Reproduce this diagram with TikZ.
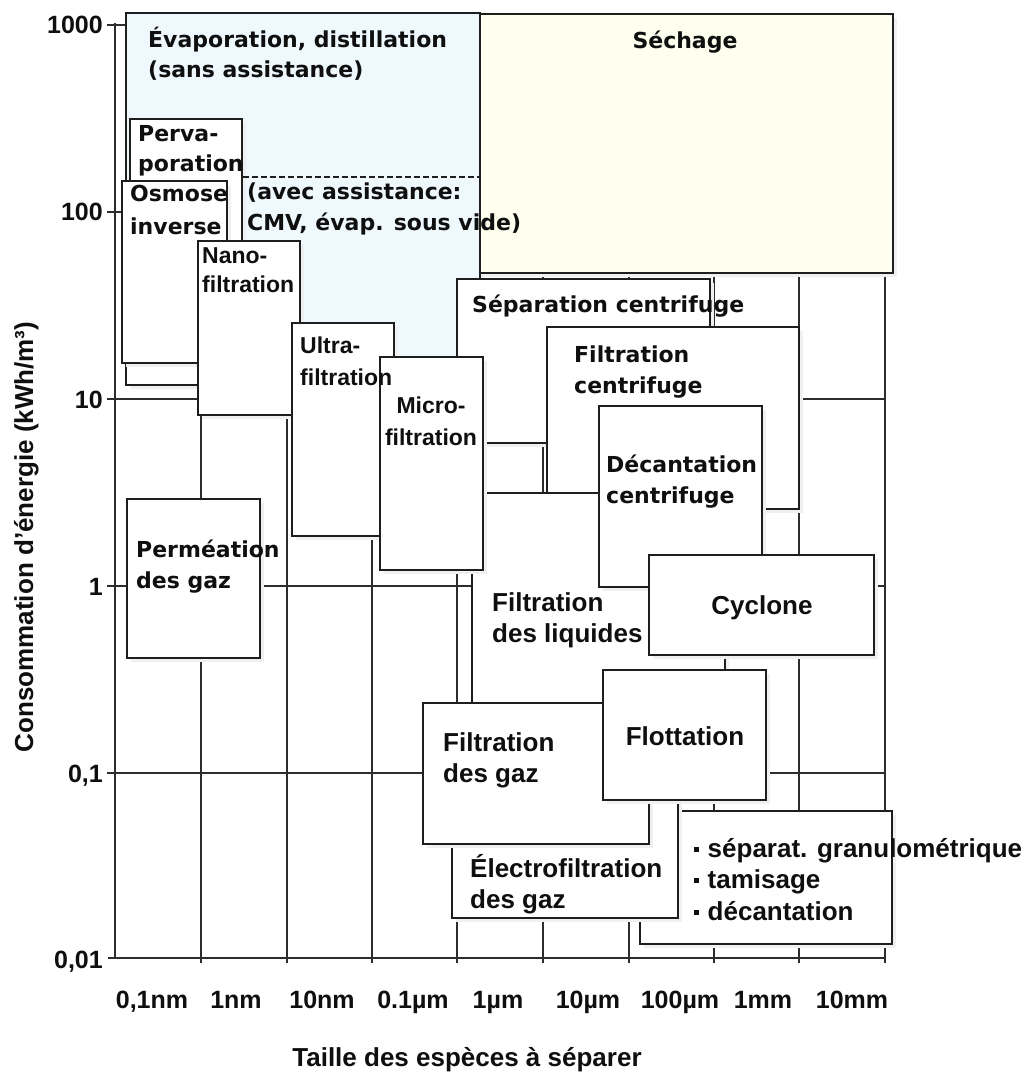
\documentclass[tikz,border=0pt]{standalone}
\usepackage{fontspec}
\setmainfont{Liberation Sans}
\newfontfamily\dvs{DejaVu Sans}
\usetikzlibrary{shadows}
\definecolor{evapblue}{RGB}{239,249,253}
\definecolor{sechyel}{RGB}{255,255,240}
\definecolor{lc}{RGB}{30,30,30}
\definecolor{gridc}{RGB}{45,45,45}
\definecolor{txt}{RGB}{15,15,15}
\tikzset{
  bx/.style={draw=lc, line width=1.6pt, fill=white,
    drop shadow={shadow xshift=4pt, shadow yshift=-4pt, fill=black!6, draw=none, opacity=1}},
  gridl/.style={draw=gridc, line width=1.4pt},
  axisl/.style={draw=gridc, line width=2.3pt},
  fa/.style={inner sep=0pt, text=txt, font=\fontsize{26}{31}\selectfont\bfseries},
  fb/.style={inner sep=0pt, text=txt, font=\dvs\fontsize{22}{27}\selectfont\bfseries},
  fc/.style={inner sep=0pt, text=txt, font=\fontsize{23}{28}\selectfont\bfseries},
  tk/.style={inner sep=0pt, text=txt, font=\fontsize{25}{30}\selectfont\bfseries},
}
\newcommand\blt{\rule[5pt]{4.5pt}{5pt}\hspace{9pt}}
\begin{document}
\begin{tikzpicture}[x=1pt,y=-1pt]
\useasboundingbox (0,0) rectangle (1031,1075);
\fill[white] (0,0) rectangle (1031,1075);

% grid
\foreach \gx in {201,287,372,457,543,629,714,799,885}
  \draw[gridl] (\gx,25) -- (\gx,963);
\foreach \gy in {25,212,399,586,773}
  \draw[gridl] (107,\gy) -- (885,\gy);
\draw[gridl] (115,23) -- (115,958);
\draw[axisl] (108,958) -- (885,958);

% boxes
\path[bx, fill=evapblue] (126,13) rectangle (480,385);
\path[bx, fill=sechyel] (480,14) rectangle (893,273);
\path[bx] (130,119) rectangle (242,360);
\draw[lc, line width=1.3pt, dash pattern=on 6pt off 3pt] (243,177) -- (480,177);
\fill[white] (127,364) rectangle (197,384);
\path[bx] (122,181) rectangle (227,363);
\path[bx] (198,241) rectangle (300,415);
\path[bx] (457,279) rectangle (710,443);
\path[bx] (547,327) rectangle (799,509);
\path[bx] (472,493) rectangle (725,760);
\path[bx] (599,406) rectangle (762,587);
\path[bx] (649,555) rectangle (874,655);
\path[bx] (292,323) rectangle (394,536);
\path[bx] (380,357) rectangle (483,570);
\path[bx] (127,499) rectangle (260,658);
\path[bx] (640,811) rectangle (892,944);
\path[bx] (452,780) rectangle (678,918);
\path[bx] (423,703) rectangle (649,844);
\path[bx] (603,670) rectangle (766,800);

% texts in boxes
\node[fb, anchor=base west] (evap1) at (148,48) {Évaporation, distillation};
\node[fb, anchor=base west] (evap2) at (148,78) {(sans assistance)};
\node[fb, anchor=base] (sech) at (685,49) {Séchage};
\node[fb, anchor=base west] (perv1) at (138,142) {Perva-};
\node[fb, anchor=base west] (perv2) at (138,172) {poration};
\node[fb, anchor=base west] (osm1) at (130,202) {Osmose};
\node[fb, anchor=base west] (osm2) at (130,234) {inverse};
\node[fb, anchor=base west] (avec1) at (247,200) {(avec assistance:};
\node[fb, anchor=base west] (avec2) at (247,231) {CMV, évap. sous vide)};
\node[fc, anchor=base west] (nano1) at (202,263) {Nano-};
\node[fc, anchor=base west] (nano2) at (202,292) {filtration};
\node[fc, anchor=base west] (ultra1) at (300,353) {Ultra-};
\node[fc, anchor=base west] (ultra2) at (300,385) {filtration};
\node[fc, anchor=base] (micro1) at (431,413) {Micro-};
\node[fc, anchor=base] (micro2) at (431,445) {filtration};
\node[fb, anchor=base west] (sep) at (472,312) {Séparation centrifuge};
\node[fb, anchor=base west] (fc1) at (574,362) {Filtration};
\node[fb, anchor=base west] (fc2) at (574,393) {centrifuge};
\node[fb, anchor=base west] (dec1) at (606,472) {Décantation};
\node[fb, anchor=base west] (dec2) at (606,503) {centrifuge};
\node[fb, anchor=base west] (perm1) at (136,557) {Perméation};
\node[fb, anchor=base west] (perm2) at (136,588) {des gaz};
\node[fa, anchor=base west] (liq1) at (492,611) {Filtration};
\node[fa, anchor=base west] (liq2) at (492,642) {des liquides};
\node[fa, anchor=base] (cyc) at (762,614) {Cyclone};
\node[fa, anchor=base] (flot) at (685,745) {Flottation};
\node[fa, anchor=base west] (fg1) at (443,751) {Filtration};
\node[fa, anchor=base west] (fg2) at (443,782) {des gaz};
\node[fa, anchor=base west] (el1) at (470,877) {Électrofiltration};
\node[fa, anchor=base west] (el2) at (470,908) {des gaz};
\node[fa, anchor=base west] (gr1) at (694,857) {\blt séparat. granulométrique};
\node[fa, anchor=base west] (gr2) at (694,888) {\blt tamisage};
\node[fa, anchor=base west] (gr3) at (694,920) {\blt décantation};

% y tick labels
\node[tk, anchor=base east] (y1000) at (103,34) {1000};
\node[tk, anchor=base east] (y100) at (103,221) {100};
\node[tk, anchor=base east] (y10) at (103,408) {10};
\node[tk, anchor=base east] (y1) at (103,595) {1};
\node[tk, anchor=base east] (y01) at (103,782) {0,1};
\node[tk, anchor=base east] (y001) at (103,968) {0,01};

% x tick labels
\node[tk, anchor=base] (x1) at (152,1008) {0,1nm};
\node[tk, anchor=base] (x2) at (236,1008) {1nm};
\node[tk, anchor=base] (x3) at (322,1008) {10nm};
\node[tk, anchor=base] (x4) at (413,1008) {0.1µm};
\node[tk, anchor=base] (x5) at (498,1008) {1µm};
\node[tk, anchor=base] (x6) at (588,1008) {10µm};
\node[tk, anchor=base] (x7) at (680,1008) {100µm};
\node[tk, anchor=base] (x8) at (763,1008) {1mm};
\node[tk, anchor=base] (x9) at (852,1008) {10mm};

% axis titles
\node[fa, anchor=base] (xt) at (467,1066) {Taille des espèces à séparer};
\node[fa, rotate=90, anchor=base] (yt) at (33,537) {Consommation d’énergie (kWh/m³)};
\end{tikzpicture}
\end{document}
